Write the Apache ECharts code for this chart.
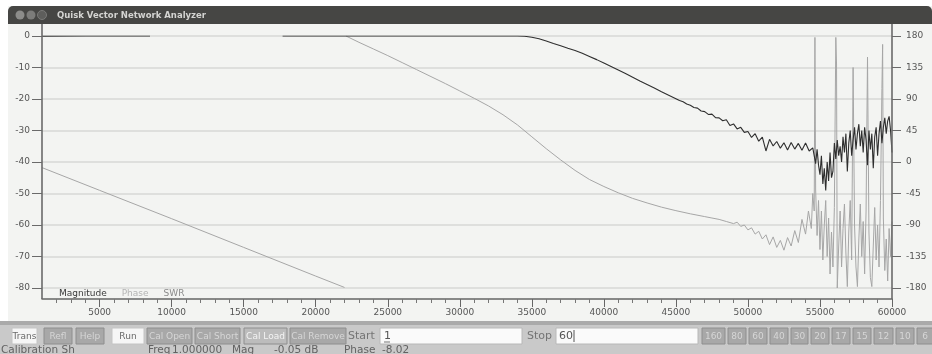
<!DOCTYPE html>
<html>
<head>
<meta charset="utf-8">
<title>Quisk Vector Network Analyzer</title>
<script src="https://cdn.jsdelivr.net/npm/echarts@6/dist/echarts.min.js"></script>
<style>
  html, body { margin: 0; padding: 0; background: #ffffff; }
  #chart { width: 932px; height: 354px; }
</style>
</head>
<body>
<div id="chart"></div>
<script>
// Frequency axis (kHz) tick labels
const xTicks = [5000, 10000, 15000, 20000, 25000, 30000, 35000, 40000, 45000, 50000, 55000, 60000];

// Magnitude trace (dB), null marks a gap in the trace
const magFreq = [
  1000, 4000, 8500, 8550, 17700, 25000, 34000, 34500, 35000, 35500, 36000, 36500,
  37000, 37500, 38000, 38500, 39000, 39500, 40000, 40500, 41000, 41500, 42000, 42500,
  43000, 43500, 44000, 44500, 45000, 45250, 45500, 45750, 46000, 46250, 46500, 46750,
  47000, 47250, 47500, 47750, 48000, 48250, 48500, 48750, 49000, 49250, 49500, 49750,
  50000, 50250, 50500, 50750, 51000, 51250, 51500, 51750, 52000, 52250, 52500, 52750,
  53000, 53250, 53500, 53750, 54000, 54250,
  54500, 54600, 54700, 54800, 54900, 55000, 55100, 55200, 55300, 55400, 55500, 55600,
  55700, 55800, 55900, 56000, 56100, 56200, 56300, 56400, 56500, 56600, 56700, 56800,
  56900, 57000, 57100, 57200, 57300, 57400, 57500, 57600, 57700, 57800, 57900, 58000,
  58100, 58200, 58300, 58400, 58500, 58600, 58700, 58800, 58900, 59000, 59100, 59200,
  59300, 59400, 59500, 59600, 59700, 59800, 59900, 60000
];
const magDb = [
  -0.05, 0, 0, null, 0, 0, 0, -0.1, -0.4, -0.9, -1.6, -2.4,
  -3.1, -3.9, -4.6, -5.5, -6.5, -7.5, -8.6, -9.7, -10.8, -11.9, -13.1, -14.3,
  -15.4, -16.5, -17.7, -18.8, -19.9, -20.5, -20.9, -21.6, -22.0, -22.7, -22.9, -23.8,
  -24.0, -24.9, -24.8, -25.9, -26.0, -26.9, -26.6, -28.4, -27.9, -29.5, -29.0, -30.6,
  -30.3, -32.2, -31.0, -33.4, -32.1, -36.5, -32.8, -34.9, -33.5, -35.6, -33.9, -36.2,
  -33.8, -35.9, -34.1, -36.3, -34.0, -36.5,
  -35.5, -38, -40.5, -36, -41, -44, -38, -47, -42, -49, -40, -46,
  -37, -45, -43, -34, -39, -33, -38, -35, -40, -32, -37, -31,
  -43, -34, -30, -38, -33, -29, -36, -31, -28, -35, -30, -37,
  -29, -33, -41, -30, -36, -31, -42, -32, -29, -38, -31, -27,
  -34, -29, -26, -31, -27, -25.5, -30, -37
];

// Phase trace (degrees), null marks the first wrap from -180 to +180
const phaseFreq = [
  1000, 5000, 10000, 15000, 20000, 22000, 22050, 22100, 23000, 24000, 25000, 26000,
  27000, 28000, 29000, 30000, 31000, 32000, 33000, 34000, 35000, 36000, 37000, 38000,
  39000, 40000, 41000, 42000, 43000, 44000, 45000, 46000, 47000, 47500, 48000, 48500,
  49000, 49250, 49500, 49750, 50000, 50250, 50500, 50750, 51000, 51250, 51500, 51750,
  52000, 52250, 52500, 52750, 53000, 53250, 53500, 53750, 54000, 54200, 54400,
  54500, 54600, 54650, 54700, 54800, 54900, 55000, 55100, 55200, 55300, 55400, 55500,
  55600, 55700, 55800, 55900, 56000, 56100, 56150, 56200, 56300, 56400, 56500, 56600,
  56700, 56800, 56900, 57000, 57100, 57200, 57300, 57400, 57500, 57600, 57700, 57800,
  57900, 58000, 58100, 58200, 58300, 58400, 58500, 58600, 58700, 58800, 58900, 59000,
  59100, 59200, 59300, 59350, 59400, 59500, 59600, 59700, 59800, 59900, 60000
];
const phaseDeg = [
  -8.02, -40.5, -81, -122, -163, -179.2, null, 180, 171, 161.5, 152, 142,
  132, 122, 112, 101.5, 91, 80, 67.5, 53, 36, 19, 3, -12,
  -25, -35, -44, -52, -58.5, -64.5, -69.5, -74, -78, -80, -82, -85,
  -88, -86, -92, -90, -97, -94, -103, -99, -110, -104, -118, -107,
  -122, -112, -126, -108, -120, -98, -115, -82, -103, -70, -95,
  -45, -70, 178, -40, -105, -55, -125, -70, -140, -90, -55, -135,
  -80, -160, -100, -150, -65, 178, 140, -180, -120, -70, -150, -95,
  -60, -130, -178, -100, -55, -140, 135, -90, -150, -178, -110, -60,
  -135, -85, -160, -70, 150, -100, -165, -178, -120, -65, -140, -90,
  -150, -55, 105, 168, -80, -155, -110, -170, -95, -135, -85
];

const legendNames = ['Magnitude', 'Phase', 'SWR'];
const swrData = [];

const magSeries = magFreq.map((f, i) => [f, magDb[i]]);
const phaseSeries = phaseFreq.map((f, i) => [f, phaseDeg[i]]);

// minor frequency ticks every 1 MHz between the labelled ones
const minorTicks = [];
for (let k = 2000; k < 60000; k += 1000) if (k % 5000 !== 0) minorTicks.push(k);

const UI_FONT = "'DejaVu Sans', 'Liberation Sans', sans-serif";

// ---- window chrome: title bar, control bar, status line ----
function button(x, w, label, kind) {
  const fills = { grey: '#a8a8a8', white: '#f6f6f6', light: '#bcbcbc' };
  const texts = { grey: '#d6d6d6', white: '#6a6a6a', light: '#f4f4f4' };
  return {
    type: 'group', x: x, y: 328,
    children: [
      { type: 'rect', shape: { x: 0, y: 0, width: w, height: 16 },
        style: { fill: fills[kind], stroke: kind === 'white' ? '#c4c4c4' : '#8e8e8e', lineWidth: 1 } },
      { type: 'text', x: w / 2, y: 8.5,
        style: { text: label, fill: texts[kind], font: '9px ' + UI_FONT, align: 'center', verticalAlign: 'middle' } }
    ]
  };
}
function label(x, y, text, color, size) {
  return { type: 'text', x: x, y: y,
    style: { text: text, fill: color, font: (size || 11) + 'px ' + UI_FONT, verticalAlign: 'middle' } };
}

const buttons = [
  [12, 25, 'Trans', 'white'], [44, 28, 'Refl', 'grey'], [76, 28, 'Help', 'grey'],
  [112, 32, 'Run', 'white'], [147, 45, 'Cal Open', 'grey'], [195, 45, 'Cal Short', 'grey'],
  [244, 43, 'Cal Load', 'light'], [290, 56, 'Cal Remove', 'grey'],
  [702, 23, '160', 'grey'], [728, 18, '80', 'grey'], [749, 18, '60', 'grey'],
  [770, 18, '40', 'grey'], [791, 17, '30', 'grey'], [811, 18, '20', 'grey'],
  [832, 18, '17', 'grey'], [853, 18, '15', 'grey'], [874, 19, '12', 'grey'],
  [896, 18, '10', 'grey'], [917, 16, '6', 'grey']
];

const chrome = [
  // outer white margin
  { type: 'rect', z: -10, shape: { x: 0, y: 0, width: 932, height: 6 }, style: { fill: '#ffffff' } },
  { type: 'rect', z: -10, shape: { x: 0, y: 0, width: 8, height: 321 }, style: { fill: '#ffffff' } },
  // title bar
  { type: 'rect', z: -5, shape: { x: 8, y: 6, width: 924, height: 18, r: [5, 5, 0, 0] }, style: { fill: '#464644' } },
  { type: 'circle', shape: { cx: 20, cy: 15, r: 4.5 }, style: { fill: '#8c8c8a' } },
  { type: 'circle', shape: { cx: 31, cy: 15, r: 4.5 }, style: { fill: '#7c7c7a' } },
  { type: 'circle', shape: { cx: 42, cy: 15, r: 4.5 }, style: { fill: '#5e5e5c', stroke: '#7a7a78', lineWidth: 1 } },
  { type: 'text', x: 57, y: 15.5,
    style: { text: 'Quisk Vector Network Analyzer', fill: '#d4d4d2', font: 'bold 8.5px ' + UI_FONT, verticalAlign: 'middle' } },
  // plot frame (left / right axis lines run the full plot height)
  { type: 'line', z: 20, shape: { x1: 42, y1: 24, x2: 42, y2: 299 }, style: { stroke: '#6a6a6a', lineWidth: 1.6 } },
  { type: 'line', z: 20, shape: { x1: 892, y1: 24, x2: 892, y2: 299 }, style: { stroke: '#6a6a6a', lineWidth: 1.6 } },
  // control bar
  { type: 'rect', z: -5, shape: { x: 0, y: 321, width: 932, height: 33 }, style: { fill: '#c9c9c9' } },
  { type: 'rect', z: -4, shape: { x: 0, y: 321, width: 932, height: 4 }, style: { fill: '#aaaaaa' } },
  label(348, 336, 'Start', '#747474'),
  { type: 'rect', shape: { x: 380, y: 328, width: 142, height: 16 }, style: { fill: '#fafafa', stroke: '#b8b8b8' } },
  label(384, 336.5, '1', '#555555'),
  { type: 'line', shape: { x1: 384, y1: 342, x2: 390, y2: 342 }, style: { stroke: '#777', lineWidth: 1 } },
  label(527, 336, 'Stop', '#747474'),
  { type: 'rect', shape: { x: 556, y: 328, width: 142, height: 16 }, style: { fill: '#fafafa', stroke: '#b8b8b8' } },
  label(559, 336.5, '60', '#555555'),
  { type: 'line', shape: { x1: 574, y1: 330, x2: 574, y2: 342 }, style: { stroke: '#555', lineWidth: 1 } },
  // status line
  label(1, 350, 'Calibration Sh', '#626262', 10.5),
  label(148, 350, 'Freq', '#626262', 10.5),
  label(172, 350, '1.000000', '#626262', 10.5),
  label(232, 350, 'Mag', '#626262', 10.5),
  label(274, 350, '-0.05 dB', '#626262', 10.5),
  label(344, 350, 'Phase', '#626262', 10.5),
  label(382, 350, '-8.02', '#626262', 10.5)
].concat(buttons.map(b => button(b[0], b[1], b[2], b[3])));

const chart = echarts.init(document.getElementById('chart'), null, { renderer: 'canvas' });

chart.setOption({
  animation: false,
  backgroundColor: '#f3f4f2',
  textStyle: { fontFamily: UI_FONT },
  grid: { left: 42, right: 40, top: 36, bottom: 66, containLabel: false },
  legend: {
    left: 49, top: 284,
    icon: 'none', itemWidth: 0, itemHeight: 8, itemGap: 10,
    selectedMode: false,
    textStyle: { fontSize: 9, padding: 0 },
    data: [
      { name: legendNames[0], textStyle: { color: '#3a3a3a' } },
      { name: legendNames[1], textStyle: { color: '#b4b4b4' } },
      { name: legendNames[2], textStyle: { color: '#8a8a8a' } }
    ]
  },
  xAxis: [
    {
      type: 'value', min: 1000, max: 60000, position: 'bottom', offset: 11,
      axisLine: { show: true, onZero: false, lineStyle: { color: '#666666', width: 1.5 } },
      axisTick: { show: true, customValues: xTicks, length: 8, lineStyle: { color: '#666666', width: 1 } },
      axisLabel: { customValues: xTicks, fontSize: 9, color: '#555555', margin: 9,
                   formatter: v => String(v) },
      splitLine: { show: false }
    },
    {
      type: 'value', min: 1000, max: 60000, position: 'bottom', offset: 11,
      axisLine: { show: false, onZero: false },
      axisTick: { show: true, customValues: minorTicks, length: 4, lineStyle: { color: '#777777', width: 1 } },
      axisLabel: { show: false },
      splitLine: { show: false }
    }
  ],
  yAxis: [
    {
      type: 'value', min: -80, max: 0, interval: 10, position: 'left',
      axisLine: { show: false, onZero: false },
      axisTick: { show: true, length: 10, lineStyle: { color: '#6a6a6a', width: 1 } },
      axisLabel: { fontSize: 9, color: '#555555', margin: 12 },
      splitLine: { show: true, lineStyle: { color: '#d7d8d6', width: 1.5 } }
    },
    {
      type: 'value', min: -180, max: 180, interval: 45, position: 'right',
      axisLine: { show: false, onZero: false },
      axisTick: { show: true, length: 9, lineStyle: { color: '#6a6a6a', width: 1 } },
      axisLabel: { fontSize: 9, color: '#555555', margin: 14 },
      splitLine: { show: false }
    }
  ],
  series: [
    {
      name: 'Phase', type: 'line', xAxisIndex: 0, yAxisIndex: 1,
      data: phaseSeries, showSymbol: false, symbol: 'none', connectNulls: false,
      lineStyle: { color: '#a6a6a6', width: 1 }, itemStyle: { color: '#a6a6a6' },
      z: 3
    },
    {
      name: 'Magnitude', type: 'line', xAxisIndex: 0, yAxisIndex: 0,
      data: magSeries, showSymbol: false, symbol: 'none', connectNulls: false,
      lineStyle: { color: '#2e2e2e', width: 1.1 }, itemStyle: { color: '#2e2e2e' },
      z: 4
    },
    {
      name: 'SWR', type: 'line', xAxisIndex: 0, yAxisIndex: 0,
      data: swrData, showSymbol: false, lineStyle: { color: '#8a8a8a', width: 1 }
    }
  ],
  graphic: chrome
});
</script>
</body>
</html>
